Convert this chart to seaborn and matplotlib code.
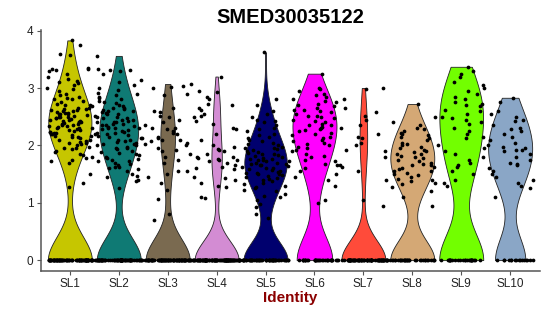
import numpy as np
import pandas as pd
import matplotlib
matplotlib.use("Agg")
import matplotlib.pyplot as plt
import seaborn as sns

cats = ["SL1", "SL2", "SL3", "SL4", "SL5", "SL6", "SL7", "SL8", "SL9", "SL10"]
colors = ["#C6C600", "#0F7A74", "#7A6A50", "#D38CD3", "#00006E",
          "#FF00FF", "#FF4B3A", "#D4A875", "#72FF00", "#8AA6C6"]

sl1 = [3.83, 3.75, 3.6, 3.58, 3.35, 3.34, 3.33, 3.32, 3.3, 3.25, 3.2, 3.15, 3.12, 3.1, 3.08, 3.05, 3.0, 2.98,
       2.95, 2.9, 2.88, 2.85, 2.82, 2.8, 2.8, 2.78, 2.75, 2.72, 2.7, 2.7, 2.68, 2.66, 2.65, 2.64, 2.63, 2.62,
       2.61, 2.6, 2.6, 2.58, 2.57, 2.56, 2.55, 2.55, 2.54, 2.53, 2.52, 2.5, 2.5, 2.49, 2.48, 2.47, 2.46, 2.45,
       2.44, 2.43, 2.42, 2.41, 2.4, 2.4, 2.39, 2.38, 2.37, 2.36, 2.35, 2.34, 2.33, 2.32, 2.31, 2.3, 2.3, 2.28,
       2.27, 2.26, 2.25, 2.24, 2.23, 2.22, 2.21, 2.2, 2.2, 2.18, 2.17, 2.16, 2.15, 2.14, 2.12, 2.1, 2.1, 2.08,
       2.06, 2.05, 2.04, 2.02, 2.0, 1.98, 1.96, 1.95, 1.93, 1.9, 1.88, 1.85, 1.83, 1.8, 1.78, 1.75, 1.72, 1.7,
       1.5, 1.35, 1.28]
sl2 = [3.56, 3.33, 3.32, 3.31, 3.3, 3.25, 3.14, 3.1, 3.05, 3.0, 2.96, 2.92, 2.9, 2.88, 2.85, 2.82, 2.8, 2.78,
       2.75, 2.73, 2.7, 2.68, 2.66, 2.65, 2.63, 2.62, 2.6, 2.6, 2.58, 2.56, 2.55, 2.54, 2.52, 2.5, 2.5, 2.48,
       2.47, 2.45, 2.44, 2.42, 2.41, 2.4, 2.4, 2.38, 2.37, 2.36, 2.35, 2.33, 2.32, 2.31, 2.3, 2.3, 2.28, 2.27,
       2.25, 2.24, 2.22, 2.21, 2.2, 2.2, 2.18, 2.16, 2.15, 2.13, 2.12, 2.1, 2.1, 2.08, 2.06, 2.05, 2.03, 2.02,
       2.0, 2.0, 1.98, 1.96, 1.95, 1.93, 1.9, 1.88, 1.86, 1.85, 1.83, 1.8, 1.78, 1.76, 1.75, 1.73, 1.72, 1.7,
       1.68, 1.65, 1.63, 1.62, 1.6, 1.58, 1.55, 1.5, 1.47, 1.45, 1.4, 1.38, 1.25]
sl3 = [3.07, 3.04, 3.02, 3.0, 2.9, 2.88, 2.65, 2.6, 2.58, 2.52, 2.4, 2.35, 2.3, 2.3, 2.25, 2.22, 2.2, 2.15,
       2.12, 2.1, 2.1, 2.08, 2.05, 2.02, 2.0, 1.95, 1.9, 1.85, 1.8, 1.75, 1.7, 1.55, 1.55, 1.5, 1.45, 1.35,
       1.22, 1.07, 0.8, 0.7, 2.28, 2.5, 1.92, 2.45]
sl4 = [3.2, 2.95, 2.93, 2.85, 2.8, 2.72, 2.7, 2.62, 2.55, 2.52, 2.5, 2.38, 2.3, 2.28, 2.2, 2.0, 1.97, 1.93,
       1.92, 1.9, 1.8, 1.8, 1.78, 1.77, 1.75, 1.75, 1.72, 1.7, 1.65, 1.62, 1.6, 1.58, 1.45, 1.43, 1.4, 1.35,
       1.3, 1.28, 1.1, 1.08, 2.42, 2.1, 2.65, 1.85]
sl5 = [3.62, 2.8, 2.6, 2.55, 2.5, 2.45, 2.42, 2.4, 2.35, 2.3, 2.28, 2.25, 2.2, 2.18, 2.15, 2.12, 2.1, 2.08,
       2.05, 2.02, 2.0, 1.98, 1.95, 1.93, 1.92, 1.9, 1.88, 1.86, 1.85, 1.83, 1.82, 1.8, 1.78, 1.77, 1.76, 1.75,
       1.74, 1.73, 1.72, 1.7, 1.7, 1.68, 1.67, 1.66, 1.65, 1.64, 1.62, 1.6, 1.6, 1.58, 1.57, 1.55, 1.54, 1.52,
       1.5, 1.5, 1.48, 1.46, 1.45, 1.43, 1.42, 1.4, 1.38, 1.35, 1.33, 1.3, 1.28, 1.25, 1.22, 1.2, 1.15, 1.12,
       1.1, 1.05, 0.97, 0.93, 0.8, 0.73, 2.7, 1.95, 1.85, 1.52]
sl6 = [3.25, 3.0, 2.98, 2.95, 2.9, 2.88, 2.85, 2.8, 2.78, 2.75, 2.72, 2.7, 2.68, 2.65, 2.62, 2.6, 2.58, 2.55,
       2.52, 2.5, 2.48, 2.45, 2.42, 2.4, 2.38, 2.35, 2.32, 2.3, 2.28, 2.25, 2.22, 2.2, 2.18, 2.15, 2.12, 2.1,
       2.08, 2.05, 2.02, 2.0, 1.98, 1.95, 1.92, 1.9, 1.85, 1.82, 1.8, 1.75, 1.72, 1.68, 1.65, 1.6, 1.55, 1.5,
       1.45, 1.4, 1.3, 1.05, 1.0, 2.52, 2.26, 2.62, 2.35]
sl7 = [3.0, 2.98, 2.8, 2.65, 2.58, 2.52, 2.45, 2.35, 2.3, 2.2, 2.15, 2.12, 2.05, 1.92, 1.9, 1.8, 1.65, 1.62,
       1.55, 1.4, 1.05, 0.95, 2.0]
sl8 = [2.72, 2.5, 2.4, 2.35, 2.3, 2.28, 2.25, 2.22, 2.2, 2.18, 2.12, 2.1, 2.05, 2.02, 2.0, 1.98, 1.95, 1.92,
       1.9, 1.88, 1.85, 1.82, 1.8, 1.78, 1.75, 1.72, 1.7, 1.68, 1.65, 1.62, 1.6, 1.58, 1.55, 1.52, 1.5, 1.48,
       1.45, 1.42, 1.4, 1.38, 1.35, 1.32, 1.28, 1.2, 1.1, 0.95, 1.65, 1.85, 1.55, 2.15]
sl9 = [3.37, 3.3, 3.25, 3.2, 3.1, 3.05, 3.0, 2.95, 2.9, 2.85, 2.8, 2.75, 2.72, 2.7, 2.6, 2.55, 2.5, 2.48,
       2.45, 2.4, 2.38, 2.3, 2.25, 2.2, 2.15, 2.12, 2.0, 1.95, 1.9, 1.85, 1.8, 1.75, 1.7, 1.65, 1.62, 1.55,
       1.5, 1.4, 1.35, 1.3, 2.62, 2.68]
sl10 = [2.83, 2.75, 2.6, 2.55, 2.5, 2.45, 2.42, 2.35, 2.3, 2.25, 2.2, 2.15, 2.1, 2.05, 2.0, 1.98, 1.95, 1.92,
        1.9, 1.85, 1.8, 1.75, 1.7, 1.68, 1.65, 1.6, 1.55, 1.5, 1.45, 1.4, 1.35, 1.3, 1.25, 1.1, 1.92, 2.28]
expressed = [sl1, sl2, sl3, sl4, sl5, sl6, sl7, sl8, sl9, sl10]
zero_counts = [75, 70, 75, 95, 50, 32, 70, 33, 25, 16]

rows = []
for c, vals, nz in zip(cats, expressed, zero_counts):
    for v in vals:
        rows.append((c, v))
    for _ in range(nz):
        rows.append((c, 0.0))
df = pd.DataFrame(rows, columns=["Identity", "expr"])

sns.set_theme(style="white")
plt.rcParams['font.family'] = ['Liberation Sans', 'DejaVu Sans']

fig = plt.figure(figsize=(5.5, 3.16), dpi=100)
ax = fig.add_axes([40.5 / 550, 1 - 271 / 316, 499 / 550, (271 - 29.5) / 316])

def nrd0(x):
    x = np.asarray(x)
    sd = np.std(x, ddof=1)
    iqr = np.subtract(*np.percentile(x, [75, 25]))
    lo = min(sd, iqr / 1.34)
    if lo == 0:
        lo = sd
    return 0.9 * lo * len(x) ** (-0.2)

for c, col in zip(cats, colors):
    sub = df[df["Identity"] == c]
    sd = np.std(sub["expr"], ddof=1)
    factor = nrd0(sub["expr"]) / sd
    sns.violinplot(data=sub, x="Identity", y="expr", order=cats, color=col, saturation=1,
                   density_norm="width", cut=0, bw_method=factor, inner=None, width=0.9,
                   linewidth=0.6, linecolor="#222222", ax=ax)

np.random.seed(3)
sns.stripplot(data=df, x="Identity", y="expr", order=cats, color="black", size=2.7,
              jitter=0.48, linewidth=0, ax=ax, zorder=3)

ax.set_xlim(-0.6, 9.6)
ax.set_ylim(-0.19, 4.02)
ax.set_yticks([0, 1, 2, 3, 4])
ax.set_ylabel("")
ax.set_xlabel("Identity", fontsize=11, fontweight="bold", color="#8B0000", labelpad=1)
ax.set_title("SMED30035122", fontsize=14.5, fontweight="bold", pad=5, color="black")
for s in ["top", "right"]:
    ax.spines[s].set_visible(False)
for s in ["left", "bottom"]:
    ax.spines[s].set_color("#555555")
    ax.spines[s].set_linewidth(1.1)
ax.tick_params(axis="both", which="both", direction="out", length=3, width=0.8, color="#555555",
               labelsize=8.5, labelcolor="#222222", bottom=True, left=True, pad=2)
ax.grid(False)

fig.savefig("out.png", dpi=100)
